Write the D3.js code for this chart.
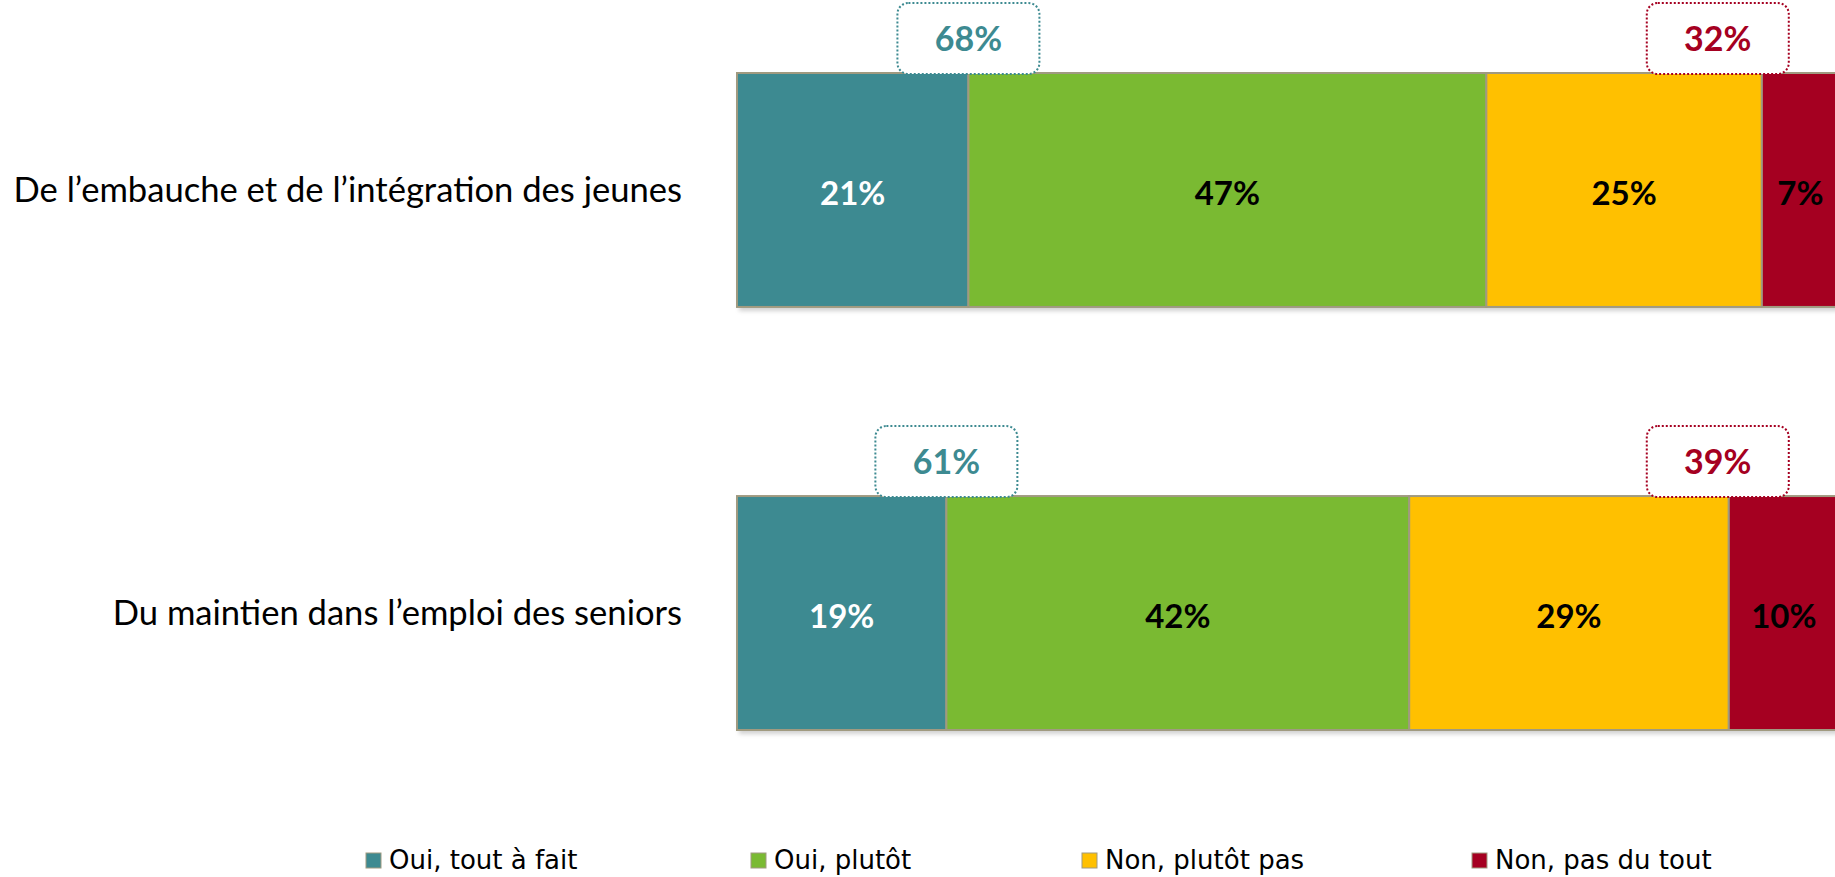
<!DOCTYPE html>
<html>
<head>
<meta charset="utf-8">
<script src="https://cdn.jsdelivr.net/npm/d3@7"></script>
<style>
    body { margin: 0; background: #fff; overflow: hidden; }
    .cat-label { font-family: Lato, "Open Sans", sans-serif; font-size: 34.6px; fill: #000; }
    .seg-label { font-family: Lato, sans-serif; font-weight: bold; font-size: 33px; }
    .box-label { font-family: Lato, sans-serif; font-weight: bold; font-size: 34px; }
    .legend-label { font-family: "DejaVu Sans", sans-serif; font-size: 26px; fill: #000; }
</style>
</head>
<body>
<div id="chart"></div>
<script>

// categories (one per bar)
var categories = ["De l’embauche et de l’intégration des jeunes", "Du maintien dans l’emploi des seniors"];

// series
var seriesNames = ["Oui, tout à fait", "Oui, plutôt", "Non, plutôt pas", "Non, pas du tout"];
var ouiToutAFait = [21, 19];
var ouiPlutot = [47, 42];
var nonPlutotPas = [25, 29];
var nonPasDuTout = [7, 10];

// totals shown in the dotted boxes
var totalOui = [68, 61];
var totalNon = [32, 39];

var seriesColors = ["#3d8a91", "#7aba32", "#ffc000", "#a50021"];
var labelColors = ["#fff", "#000", "#000", "#000"];

StackedBarVis = function(_parentElement){
    this.parentElement = _parentElement;
    this.initVis();
}

StackedBarVis.prototype.initVis = function(){
    var vis = this;

    vis.width = 1835;
    vis.height = 877;

    vis.svg = d3.select("#" + vis.parentElement).append("svg")
        .attr("width", vis.width)
        .attr("height", vis.height);

    // light shadow under the bars
    var filter = vis.svg.append("defs").append("filter")
        .attr("id", "shadow")
        .attr("x", "-5%").attr("y", "-5%")
        .attr("width", "110%").attr("height", "115%");
    filter.append("feDropShadow")
        .attr("dx", 2).attr("dy", 4)
        .attr("stdDeviation", 2)
        .attr("flood-color", "#000")
        .attr("flood-opacity", 0.18);

    vis.x = d3.scaleLinear()
        .domain([0, 100])
        .range([737, 1839]);

    vis.y = d3.scaleBand()
        .domain(categories)
        .range([73, 730])
        .paddingInner(0.447)
        .paddingOuter(0);

    vis.wrangleData();
}

StackedBarVis.prototype.wrangleData = function(){
    var vis = this;

    vis.displayData = categories.map(function(c, i){
        return {
            category: c,
            s0: ouiToutAFait[i],
            s1: ouiPlutot[i],
            s2: nonPlutotPas[i],
            s3: nonPasDuTout[i],
            oui: totalOui[i],
            non: totalNon[i]
        };
    });

    vis.stacked = d3.stack().keys(["s0", "s1", "s2", "s3"])(vis.displayData);

    vis.updateVis();
}

StackedBarVis.prototype.updateVis = function(){
    var vis = this;

    // category labels
    vis.svg.selectAll(".cat-label")
        .data(vis.displayData)
        .join("text")
        .attr("class", "cat-label")
        .attr("x", 682)
        .attr("y", function(d){ return vis.y(d.category) + vis.y.bandwidth() / 2; })
        .attr("dy", "0.35em")
        .attr("text-anchor", "end")
        .text(function(d){ return d.category; });

    // shadow behind each full bar
    vis.svg.selectAll(".bar-shadow")
        .data(vis.displayData)
        .join("rect")
        .attr("class", "bar-shadow")
        .attr("x", vis.x(0))
        .attr("y", function(d){ return vis.y(d.category); })
        .attr("width", vis.x(100) - vis.x(0))
        .attr("height", vis.y.bandwidth())
        .attr("fill", "#fff")
        .attr("filter", "url(#shadow)");

    var layers = vis.svg.selectAll(".layer")
        .data(vis.stacked)
        .join("g")
        .attr("class", "layer");

    layers.selectAll("rect")
        .data(function(d){ return d.map(function(p){ return {p: p, key: d.index}; }); })
        .join("rect")
        .attr("x", function(d){ return vis.x(d.p[0]); })
        .attr("y", function(d){ return vis.y(d.p.data.category); })
        .attr("width", function(d){ return vis.x(d.p[1]) - vis.x(d.p[0]); })
        .attr("height", vis.y.bandwidth())
        .attr("fill", function(d){ return seriesColors[d.key]; })
        .attr("stroke", "#a09a80")
        .attr("stroke-width", 2);

    layers.selectAll("text")
        .data(function(d){ return d.map(function(p){ return {p: p, key: d.index}; }); })
        .join("text")
        .attr("class", "seg-label")
        .attr("x", function(d){ return (vis.x(d.p[0]) + vis.x(d.p[1])) / 2; })
        .attr("y", function(d){ return vis.y(d.p.data.category) + vis.y.bandwidth() / 2 + 3; })
        .attr("dy", "0.35em")
        .attr("text-anchor", "middle")
        .attr("fill", function(d){ return labelColors[d.key]; })
        .text(function(d){ return (d.p[1] - d.p[0]) + "%"; });

    // dotted total boxes
    var boxW = 142, boxH = 71;
    var boxes = [];
    vis.displayData.forEach(function(d){
        boxes.push({cx: vis.x(d.s0), top: vis.y(d.category), value: d.oui, color: seriesColors[0]});
        boxes.push({cx: vis.x(89), top: vis.y(d.category), value: d.non, color: seriesColors[3]});
    });

    var box = vis.svg.selectAll(".total-box")
        .data(boxes)
        .join("g")
        .attr("class", "total-box")
        .attr("transform", function(d){ return "translate(" + (d.cx - boxW / 2) + "," + (d.top - boxH + 1) + ")"; });

    box.append("rect")
        .attr("width", boxW)
        .attr("height", boxH)
        .attr("rx", 11)
        .attr("fill", "#fff")
        .attr("stroke", function(d){ return d.color; })
        .attr("stroke-width", 2)
        .attr("stroke-dasharray", "2,2");

    box.append("text")
        .attr("class", "box-label")
        .attr("x", boxW / 2)
        .attr("y", boxH / 2)
        .attr("dy", "0.36em")
        .attr("text-anchor", "middle")
        .attr("fill", function(d){ return d.color; })
        .text(function(d){ return d.value + "%"; });

    // legend
    var legendX = [366, 751, 1082, 1472];
    var legend = vis.svg.selectAll(".legend-item")
        .data(seriesNames)
        .join("g")
        .attr("class", "legend-item")
        .attr("transform", function(d, i){ return "translate(" + legendX[i] + ",853)"; });

    legend.append("rect")
        .attr("width", 15)
        .attr("height", 15)
        .attr("fill", function(d, i){ return seriesColors[i]; })
        .attr("stroke", "#a09a80")
        .attr("stroke-width", 1);

    legend.append("text")
        .attr("class", "legend-label")
        .attr("x", 23)
        .attr("y", 16)
        .text(function(d){ return d; });
}

new StackedBarVis("chart");

</script>
</body>
</html>
